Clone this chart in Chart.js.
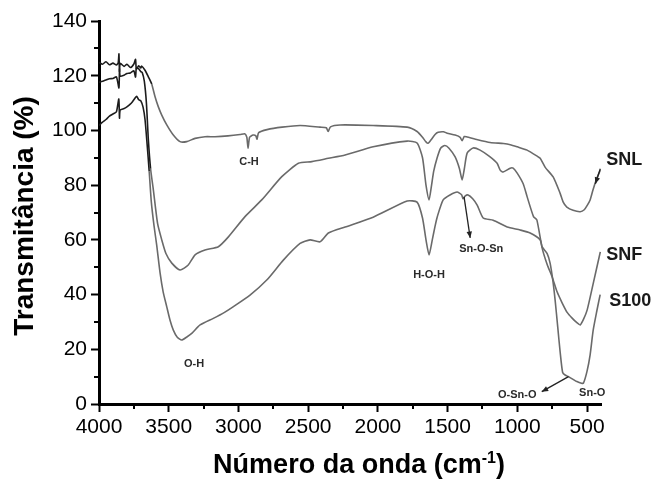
<!DOCTYPE html>
<html>
<head>
<meta charset="utf-8">
<script src="https://cdn.jsdelivr.net/npm/chart.js@4.4.1/dist/chart.umd.min.js"></script>
<style>
  html, body { margin: 0; padding: 0; background: #fff; }
  #wrap { width: 652px; height: 482px; }
</style>
</head>
<body>
<div id="wrap"><canvas id="ftir" width="652" height="482"></canvas></div>
<script>
// Espectros FTIR (número de onda em cm-1, transmitância em %)
const snlWave = [4000, 3975, 3950, 3925, 3900, 3875, 3862, 3857, 3853, 3848, 3820, 3800, 3775, 3750, 3738, 3732, 3715, 3700, 3694, 3670, 3646, 3622, 3598, 3575, 3550, 3514, 3467, 3419, 3371, 3311, 3240, 3168, 3075, 2988, 2955, 2940, 2931, 2920, 2895, 2875, 2867, 2855, 2795, 2687, 2558, 2415, 2370, 2357, 2340, 2271, 2034, 1790, 1719, 1680, 1655, 1640, 1620, 1590, 1568, 1530, 1503, 1446, 1410, 1396, 1380, 1360, 1300, 1195, 1100, 1051, 1000, 930, 858, 836, 800, 743, 693, 671, 645, 600, 549, 520, 500, 478, 456, 430, 405];
const snlT    = [124.8, 124.2, 125.1, 124.0, 124.6, 123.9, 124.8, 128.0, 121.5, 124.5, 123.4, 124.2, 123.0, 124.3, 126.0, 122.5, 123.6, 122.8, 123.5, 122.0, 119.6, 117.0, 112.3, 108.7, 105.6, 102.0, 98.3, 95.9, 95.9, 97.1, 97.7, 97.7, 98.0, 98.5, 98.8, 97.5, 93.5, 97.5, 98.3, 98.0, 96.8, 99.2, 100.3, 101.2, 101.8, 101.2, 101.0, 99.6, 101.3, 102.0, 101.8, 101.2, 99.6, 97.5, 95.8, 95.3, 96.5, 98.5, 99.3, 99.5, 99.0, 98.3, 97.5, 96.2, 97.8, 97.6, 96.8, 95.6, 95.2, 94.8, 94.0, 92.8, 90.6, 89.8, 86.5, 83.0, 77.0, 73.8, 72.0, 70.8, 70.3, 71.0, 72.5, 74.6, 78.5, 82.5, 85.5];

const snfWave = [4000, 3975, 3950, 3925, 3900, 3875, 3857, 3853, 3848, 3820, 3800, 3775, 3750, 3738, 3732, 3715, 3700, 3690, 3675, 3660, 3646, 3630, 3610, 3580, 3550, 3520, 3478, 3419, 3360, 3311, 3240, 3144, 3072, 2953, 2833, 2689, 2570, 2474, 2355, 2235, 2034, 1790, 1719, 1680, 1655, 1633, 1615, 1600, 1575, 1550, 1520, 1490, 1446, 1415, 1396, 1380, 1360, 1317, 1267, 1200, 1145, 1123, 1102, 1051, 1030, 1001, 958, 930, 884, 860, 822, 786, 750, 715, 679, 643, 607, 575, 549, 525, 499, 456, 405];
const snfT    = [117.6, 118.0, 118.4, 118.9, 119.0, 119.6, 115.5, 122.5, 119.8, 120.2, 120.8, 121.0, 121.8, 119.5, 122.8, 122.5, 121.5, 121.2, 118.0, 110.0, 96.5, 86.0, 78.2, 66.0, 60.0, 55.0, 51.5, 49.0, 50.8, 54.5, 56.3, 57.5, 61.1, 68.5, 74.6, 83.1, 88.0, 88.6, 89.8, 91.0, 94.0, 96.1, 95.4, 90.0, 80.0, 74.6, 80.0, 85.0, 90.0, 93.5, 94.5, 93.5, 90.3, 86.0, 81.9, 86.0, 91.7, 93.6, 92.8, 90.5, 88.0, 85.5, 84.8, 86.2, 86.2, 84.4, 80.5, 75.8, 68.5, 67.3, 57.0, 51.0, 46.4, 41.0, 37.0, 33.5, 31.4, 29.8, 28.9, 31.0, 34.4, 44.0, 55.6];

const s100Wave = [4000, 3975, 3950, 3925, 3900, 3875, 3858, 3853, 3848, 3820, 3800, 3778, 3760, 3742, 3730, 3715, 3700, 3684, 3670, 3655, 3640, 3625, 3605, 3586, 3562, 3540, 3514, 3490, 3467, 3440, 3407, 3370, 3335, 3275, 3180, 3100, 3036, 2917, 2797, 2678, 2558, 2486, 2415, 2355, 2235, 2034, 1790, 1719, 1680, 1655, 1633, 1610, 1590, 1575, 1532, 1480, 1432, 1400, 1389, 1375, 1353, 1320, 1288, 1245, 1173, 1073, 980, 908, 836, 822, 786, 765, 745, 729, 710, 693, 675, 655, 633, 600, 573, 540, 526, 500, 478, 456, 430, 406];
const s100T    = [101.8, 103.0, 104.0, 105.2, 106.0, 106.8, 111.5, 104.5, 107.5, 108.0, 108.6, 109.5, 110.5, 111.8, 112.5, 111.2, 110.8, 108.5, 104.0, 95.0, 85.0, 74.0, 65.0, 58.0, 47.9, 41.0, 35.5, 30.5, 27.0, 24.5, 23.4, 24.5, 25.8, 28.9, 31.3, 33.5, 35.6, 39.8, 45.3, 52.6, 58.7, 60.0, 59.3, 62.5, 64.7, 68.3, 74.2, 73.8, 68.0, 60.0, 54.5, 60.0, 65.0, 68.3, 74.6, 76.5, 77.5, 76.5, 75.0, 76.0, 76.4, 75.0, 72.7, 68.0, 67.2, 64.7, 63.6, 62.5, 60.0, 57.4, 55.0, 51.5, 45.0, 38.0, 28.0, 19.0, 11.5, 10.5, 10.0, 9.0, 8.2, 7.6, 7.6, 12.0, 18.0, 27.0, 34.0, 40.0];

const xTicks = [4000, 3500, 3000, 2500, 2000, 1500, 1000, 500];
const xMinor = [3750, 3250, 2750, 2250, 1750, 1250, 750];
const yMinor = [10, 30, 50, 70, 90, 110, 130];

// Rótulos das bandas e das amostras (posição em cm-1 e %)
const bandLabels = [
    { text: 'C-H', wave: 2924, t: 88.5 },
    { text: 'O-H', wave: 3318, t: 14.6 },
    { text: 'H-O-H', wave: 1633, t: 47.1 },
    { text: 'Sn-O-Sn', wave: 1259, t: 56.7 },
    { text: 'O-Sn-O', wave: 1001, t: 3.3 },
    { text: 'Sn-O', wave: 463, t: 4.0 }
];
const sampleLabels = [
    { text: 'SNL', wave: 234, t: 89.2 },
    { text: 'SNF', wave: 234, t: 54.5 },
    { text: 'S100', wave: 190, t: 37.6 }
];
const arrows = [
    { from: [1382, 75.7], to: [1338, 60.7] },
    { from: [633, 10.0], to: [825, 4.5] },
    { from: [405, 86.0], to: [440, 80.5] }
];

function hasFont(name) {
    const c = document.createElement('canvas').getContext('2d');
    c.font = '30px monospace';
    const w0 = c.measureText('4000 Transm').width;
    c.font = `30px "${name}", monospace`;
    return c.measureText('4000 Transm').width !== w0;
}
const narrow = hasFont('Liberation Sans Narrow');
const tickFont = narrow
    ? { family: '"Liberation Sans Narrow", "Liberation Sans", Arial', size: 25 }
    : { family: '"Liberation Sans", Arial', size: 21 };

const lineGrey = '#6a6a6a';

function toPoints(wave, t) {
    return wave.map((w, i) => ({ x: w, y: t[i] }));
}

function makeSet(label, wave, t) {
    return {
        label: label,
        data: toPoints(wave, t),
        showLine: true,
        borderColor: lineGrey,
        borderWidth: 1.6,
        pointRadius: 0,
        tension: 0.2,
        segment: {
            borderColor: ctx => ctx.p0.parsed.x > 3645 ? '#1c1c1c' : lineGrey
        }
    };
}

// Desenha ticks menores, setas, rótulos e títulos dos eixos
const extras = {
    id: 'extras',
    afterDraw(chart) {
        const ctx = chart.ctx;
        const xs = chart.scales.x, ys = chart.scales.y;
        const area = chart.chartArea;
        ctx.save();
        ctx.strokeStyle = '#000';
        ctx.lineWidth = 2;
        xMinor.forEach(v => {
            const px = Math.round(xs.getPixelForValue(v));
            ctx.beginPath();
            ctx.moveTo(px, area.bottom);
            ctx.lineTo(px, area.bottom + 5);
            ctx.stroke();
        });
        yMinor.forEach(v => {
            const py = Math.round(ys.getPixelForValue(v));
            ctx.beginPath();
            ctx.moveTo(area.left, py);
            ctx.lineTo(area.left - 5, py);
            ctx.stroke();
        });

        // setas
        ctx.strokeStyle = '#222';
        ctx.fillStyle = '#222';
        ctx.lineWidth = 1.3;
        arrows.forEach(a => {
            const x1 = xs.getPixelForValue(a.from[0]), y1 = ys.getPixelForValue(a.from[1]);
            const x2 = xs.getPixelForValue(a.to[0]), y2 = ys.getPixelForValue(a.to[1]);
            const ang = Math.atan2(y2 - y1, x2 - x1);
            ctx.beginPath();
            ctx.moveTo(x1, y1);
            ctx.lineTo(x2, y2);
            ctx.stroke();
            ctx.beginPath();
            ctx.moveTo(x2, y2);
            ctx.lineTo(x2 - 7 * Math.cos(ang - 0.4), y2 - 7 * Math.sin(ang - 0.4));
            ctx.lineTo(x2 - 7 * Math.cos(ang + 0.4), y2 - 7 * Math.sin(ang + 0.4));
            ctx.closePath();
            ctx.fill();
        });

        ctx.textAlign = 'center';
        ctx.textBaseline = 'middle';
        ctx.fillStyle = '#2a2a2a';
        ctx.font = 'bold 11px "Liberation Sans", Arial';
        bandLabels.forEach(l => {
            ctx.fillText(l.text, xs.getPixelForValue(l.wave), ys.getPixelForValue(l.t));
        });
        ctx.fillStyle = '#1a1a1a';
        ctx.font = 'bold 18px "Liberation Sans", Arial';
        sampleLabels.forEach(l => {
            ctx.fillText(l.text, xs.getPixelForValue(l.wave), ys.getPixelForValue(l.t));
        });

        // título do eixo y
        ctx.fillStyle = '#000';
        ctx.save();
        ctx.translate(33, 216);
        ctx.rotate(-Math.PI / 2);
        ctx.textBaseline = 'alphabetic';
        ctx.font = 'bold 28px "Liberation Sans", Arial';
        ctx.fillText('Transmitância (%)', 0, 0);
        ctx.restore();

        // título do eixo x com expoente
        const base = 'Número da onda (cm';
        const sup = '-1';
        const close = ')';
        ctx.textBaseline = 'alphabetic';
        ctx.textAlign = 'left';
        ctx.font = 'bold 27px "Liberation Sans", Arial';
        const wBase = ctx.measureText(base).width;
        const wClose = ctx.measureText(close).width;
        ctx.font = 'bold 16px "Liberation Sans", Arial';
        const wSup = ctx.measureText(sup).width;
        const total = wBase + wSup + wClose;
        let x0 = 359 - total / 2;
        const yb = 473;
        ctx.font = 'bold 27px "Liberation Sans", Arial';
        ctx.fillText(base, x0, yb);
        ctx.font = 'bold 16px "Liberation Sans", Arial';
        ctx.fillText(sup, x0 + wBase, yb - 10);
        ctx.font = 'bold 27px "Liberation Sans", Arial';
        ctx.fillText(close, x0 + wBase + wSup, yb);
        ctx.restore();
    }
};

new Chart(document.getElementById('ftir'), {
    type: 'scatter',
    data: {
        datasets: [
            makeSet('SNL', snlWave, snlT),
            makeSet('SNF', snfWave, snfT),
            makeSet('S100', s100Wave, s100T)
        ]
    },
    options: {
        responsive: false,
        animation: false,
        devicePixelRatio: 1,
        layout: { padding: { top: 21, right: 51, left: 0, bottom: 0 } },
        plugins: {
            legend: { display: false },
            tooltip: { enabled: false }
        },
        scales: {
            x: {
                type: 'linear',
                reverse: true,
                min: 400,
                max: 4000,
                afterBuildTicks: scale => {
                    scale.ticks = xTicks.map(v => ({ value: v }));
                },
                afterFit: scale => { scale.height = 78; },
                grid: { drawOnChartArea: false, drawTicks: true, tickLength: 8, tickWidth: 2, tickColor: '#000' },
                border: { display: true, color: '#000', width: 3 },
                ticks: { font: tickFont, color: '#000', padding: 3, maxRotation: 0, callback: v => String(v) }
            },
            y: {
                min: 0,
                max: 140,
                ticks: { stepSize: 20, font: tickFont, color: '#000', padding: 4, callback: v => String(v) },
                afterFit: scale => { scale.width = 99; },
                grid: { drawOnChartArea: false, drawTicks: true, tickLength: 8, tickWidth: 2, tickColor: '#000' },
                border: { display: true, color: '#000', width: 3 }
            }
        }
    },
    plugins: [extras]
});
</script>
</body>
</html>
